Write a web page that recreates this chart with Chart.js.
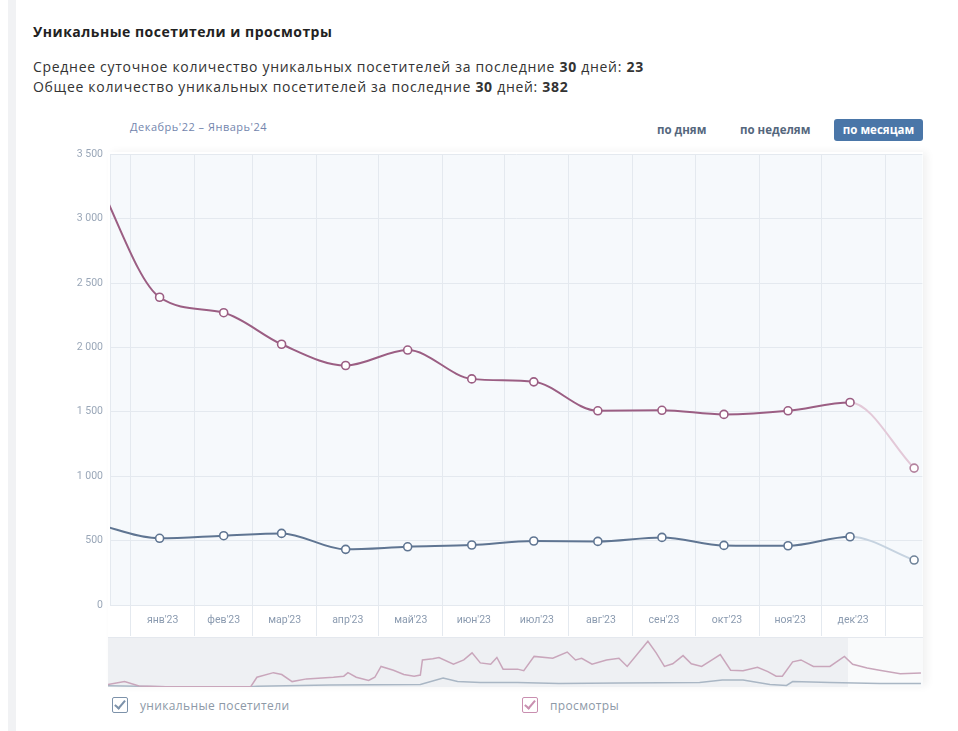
<!DOCTYPE html>
<html lang="ru">
<head>
<meta charset="utf-8">
<script src="https://cdn.jsdelivr.net/npm/chart.js@4.4.1/dist/chart.umd.min.js"></script>
<style>
    body { margin: 0; width: 958px; height: 731px; background: #fff; font-family: "Open Sans", Roboto, sans-serif; position: relative; overflow: hidden; }
    .strip { position: absolute; left: 8px; top: 0; width: 8px; height: 731px; background: #f1f2f4; }
    .title { position: absolute; left: 33px; top: 22px; font-size: 14px; font-weight: bold; color: #222; letter-spacing: 0.5px; }
    .info { position: absolute; left: 33px; font-size: 14px; color: #333; letter-spacing: 0.7px; }
    .range { position: absolute; left: 130px; top: 119px; font-size: 11px; color: #7385ad; letter-spacing: 0.5px; }
    .btn { position: absolute; top: 122px; font-size: 11.5px; font-weight: bold; color: #55677d; }
    .btn.active { top: 119px; left: 834px; width: 89px; height: 22px; line-height: 22px; text-align: center; background: #4a76a8; color: #fff; border-radius: 3px; }
    .shadow { position: absolute; left: 108px; top: 152px; width: 815px; height: 534px; box-shadow: 4px 0 8px rgba(0,0,0,0.06); }
    #mainWrap { position: absolute; left: 60px; top: 141px; width: 868px; height: 495px; }
    #navWrap { position: absolute; left: 108px; top: 637px; width: 815px; height: 49px; border-top: 1px solid #e4e8ee;
               background: linear-gradient(to right, #eef0f3 0, #eef0f3 740px, #f9fafb 740px, #f9fafb 100%); }
    .legend { position: absolute; top: 697px; }
    .box { position: absolute; top: 0; width: 14px; height: 14px; border: 1.5px solid; border-radius: 2px; }
    .box::after { content: ""; position: absolute; left: 4px; top: 0px; width: 4px; height: 9px; border: solid; border-width: 0 2px 2px 0; border-color: inherit; transform: rotate(40deg); }
    .legend span { position: absolute; left: 28px; top: 0px; font-size: 12px; color: #8d99a7; white-space: nowrap; letter-spacing: 0.35px; }
</style>
</head>
<body>
<div class="strip"></div>
<div class="title">Уникальные посетители и просмотры</div>
<div class="info" style="top:57px">Среднее суточное количество уникальных посетителей за последние <b>30</b> дней: <b>23</b></div>
<div class="info" style="top:77px">Общее количество уникальных посетителей за последние <b>30</b> дней: <b>382</b></div>
<div class="range">Декабрь'22 – Январь'24</div>
<div class="btn" style="left:657px">по дням</div>
<div class="btn" style="left:740px">по неделям</div>
<div class="btn active">по месяцам</div>

<div class="shadow"></div>
<div id="mainWrap"><canvas id="mainChart"></canvas></div>
<div id="navWrap"><canvas id="navChart"></canvas></div>

<div class="legend" style="left:112px"><div class="box" style="border-color:#7d92aa"></div><span>уникальные посетители</span></div>
<div class="legend" style="left:522px"><div class="box" style="border-color:#c98fb0"></div><span>просмотры</span></div>

<script>
// monthly points (middle of each month)
const pointDates = ['2022-12-15', '2023-01-15', '2023-02-15', '2023-03-15', '2023-04-15', '2023-05-15', '2023-06-15',
    '2023-07-15', '2023-08-15', '2023-09-15', '2023-10-15', '2023-11-15', '2023-12-15', '2024-01-15'];
const visitors = [630, 518, 538, 556, 432, 452, 466, 497, 494, 525, 463, 460, 530, 349];
const views = [3330, 2390, 2270, 2025, 1860, 1980, 1756, 1733, 1508, 1512, 1480, 1508, 1573, 1063];

// month boundaries and their labels
const monthStarts = ['2023-01-01', '2023-02-01', '2023-03-01', '2023-04-01', '2023-05-01', '2023-06-01', '2023-07-01',
    '2023-08-01', '2023-09-01', '2023-10-01', '2023-11-01', '2023-12-01', '2024-01-01'];
const monthLabels = ["янв'23", "фев'23", "мар'23", "апр'23", "май'23", "июн'23", "июл'23", "авг'23", "сен'23", "окт'23", "ноя'23", "дек'23"];
const yTicks = [0, 500, 1000, 1500, 2000, 2500, 3000, 3500];

// navigator (day offset from 1 Jan 2023, value)
const navViewDays = [-11, -3, 4, 17, 58, 61, 69, 73, 78, 85, 98, 103, 105, 109, 115, 118, 121, 127, 132, 137, 140, 141, 146, 149,
    156, 161, 165, 169, 174, 177, 180, 187, 190, 195, 204, 211, 215, 218, 223, 230, 236, 240, 250, 254, 258, 262, 267, 271,
    276, 281, 285, 290, 296, 303, 308, 312, 315, 320, 324, 330, 338, 345, 349, 356, 362, 372, 382];
const navViews = [8, 19, 3, 0, 0, 35, 52, 45, 19, 29, 35, 39, 52, 35, 23, 35, 75, 61, 45, 39, 43, 99, 103, 108,
    83, 99, 125, 88, 83, 108, 65, 65, 59, 112, 105, 128, 99, 105, 83, 99, 105, 75, 168, 125, 75, 85, 115, 85,
    75, 99, 119, 61, 59, 72, 56, 39, 39, 92, 99, 75, 75, 112, 83, 69, 61, 48, 51];
const navVisitorDays = [-11, 17, 58, 61, 96, 140, 151, 158, 169, 187, 207, 236, 275, 286, 296, 309, 317, 320, 338, 362, 382];
const navVisitors = [4, 0, 0, 2, 6, 8, 32, 19, 16, 16, 12, 14, 16, 25, 25, 8, 5, 19, 16, 12, 12];

function dayOf(s) {
    const [y, m, d] = s.split('-').map(Number);
    return (Date.UTC(y, m - 1, d) - Date.UTC(2023, 0, 1)) / 864e5;
}

const gridDays = monthStarts.map(dayOf);
const labelDays = monthLabels.map((_, i) => (gridDays[i] + gridDays[i + 1]) / 2);
const last = pointDates.length - 1;

function toPoints(dates, values) {
    return values.map((v, i) => ({ x: dayOf(dates[i]), y: v }));
}

const plotBg = {
    id: 'plotBg',
    beforeDraw(chart) {
        const a = chart.chartArea;
        const ctx = chart.ctx;
        ctx.save();
        ctx.fillStyle = '#f6f9fc';
        ctx.fillRect(a.left, a.top, a.right - a.left, a.bottom - a.top);
        ctx.restore();
    }
};

function lineSet(label, values, color, light, lastPoint) {
    return {
        label: label,
        data: toPoints(pointDates, values),
        borderColor: color,
        borderWidth: 2,
        cubicInterpolationMode: 'monotone',
        pointRadius: 4,
        pointBorderWidth: 1.6,
        pointBackgroundColor: '#fff',
        pointBorderColor: ctx => ctx.dataIndex === last ? lastPoint : color,
        segment: { borderColor: ctx => ctx.p1DataIndex === last ? light : undefined },
        clip: { left: 0, right: 8, top: 8, bottom: 8 }
    };
}

const mainChart = new Chart(document.getElementById('mainChart'), {
    type: 'line',
    data: {
        datasets: [
            lineSet('просмотры', views, '#9b5e83', '#e3c9d8', '#b4849f'),
            lineSet('уникальные посетители', visitors, '#5f7592', '#c6d3e0', '#6f8399')
        ]
    },
    options: {
        responsive: true,
        maintainAspectRatio: false,
        animation: false,
        layout: { padding: { top: 1 } },
        plugins: { legend: { display: false }, tooltip: { enabled: false } },
        scales: {
            x: {
                type: 'linear',
                min: -10,
                max: 383,
                afterBuildTicks: scale => {
                    scale.ticks = gridDays.concat(labelDays).sort((a, b) => a - b).map(v => ({ value: v }));
                },
                afterFit: scale => { scale.height = 31; },
                grid: {
                    color: ctx => gridDays.includes(ctx.tick.value) ? '#e4e9ef' : 'transparent',
                    tickColor: ctx => gridDays.includes(ctx.tick.value) ? '#e4e9ef' : 'transparent',
                    tickLength: 31
                },
                border: { display: true, color: '#e4e9ef' },
                ticks: {
                    autoSkip: false,
                    maxRotation: 0,
                    padding: -22,
                    color: '#8b9bb0',
                    font: { family: 'Roboto', size: 10.5 },
                    callback: value => {
                        const i = labelDays.indexOf(value);
                        return i >= 0 ? monthLabels[i] : '';
                    }
                }
            },
            y: {
                min: 0,
                max: 3500,
                afterBuildTicks: scale => { scale.ticks = yTicks.map(v => ({ value: v })); },
                afterFit: scale => { scale.width = 50; },
                grid: { color: '#e4e9ef', drawTicks: false },
                border: { display: true, color: '#e4e9ef' },
                ticks: {
                    padding: 7,
                    color: '#9aa7b8',
                    font: { family: 'Roboto', size: 10.5 },
                    callback: v => v.toLocaleString('ru-RU').replace(/\s/g, ' ')
                }
            }
        }
    },
    plugins: [plotBg]
});

new Chart(document.getElementById('navChart'), {
    type: 'line',
    data: {
        datasets: [
            { data: navViews.map((v, i) => ({ x: navViewDays[i], y: v })), borderColor: '#c9a6bb', borderWidth: 1.5, pointRadius: 0 },
            { data: navVisitors.map((v, i) => ({ x: navVisitorDays[i], y: v })), borderColor: '#a9b6c4', borderWidth: 1.5, pointRadius: 0 }
        ]
    },
    options: {
        responsive: true,
        maintainAspectRatio: false,
        animation: false,
        layout: { padding: 0 },
        plugins: { legend: { display: false }, tooltip: { enabled: false } },
        scales: {
            x: { type: 'linear', min: -11, max: 383, display: false },
            y: { min: -1, max: 180, display: false }
        }
    }
});
</script>
</body>
</html>
